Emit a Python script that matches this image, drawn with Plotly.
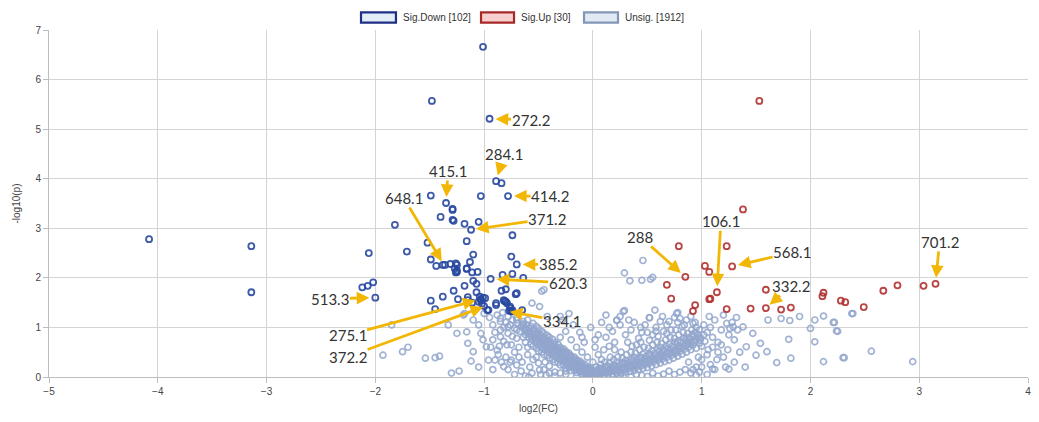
import plotly.graph_objects as go

# ---------------- data (log2FC, -log10 p) ----------------
down_x = [-4.08, -3.14, -3.14, -1.01, -1.48, -0.95, -0.89, -0.84, -0.78, -1.03, -1.35, -1.49, -1.29, -1.40,
          -1.29, -1.28, -1.18, -1.05, -1.12, -1.82, -1.52, -1.16, -0.74, -2.06, -1.71, -1.10, -0.75, -1.49,
          -1.13, -0.70, -1.44, -1.38, -1.36, -1.31, -1.26, -1.25, -1.27, -1.26, -1.25, -1.16, -1.11, -1.06,
          -1.10, -1.07, -1.18, -1.28, -0.94, -0.83, -0.74, -0.64, -0.84, -0.80, -0.70, -0.71, -2.12, -2.07,
          -2.02, -2.00, -1.49, -1.45, -1.38, -1.24, -1.15, -1.11, -1.07, -1.03, -1.01, -1.04, -1.02, -1.00,
          -0.96, -0.89, -0.82, -0.79, -0.76, -0.75, -0.65, -0.89, -0.76, -0.97, -0.99, -1.05, -0.77, -0.74,
          -1.29, -1.25, -1.16, -1.15, -0.81, -0.80, -0.75, -1.03]
down_y = [2.78, 2.64, 1.71, 6.66, 5.57, 5.21, 3.95, 3.91, 3.65, 3.65, 3.51, 3.66, 3.39, 3.23,
          3.17, 3.15, 3.09, 3.13, 2.97, 3.07, 2.71, 2.74, 2.86, 2.50, 2.53, 2.47, 2.43, 2.37,
          2.32, 2.27, 2.24, 2.26, 2.26, 2.28, 2.29, 2.26, 2.19, 2.11, 2.15, 2.18, 2.11, 2.12,
          1.94, 1.88, 1.84, 1.74, 1.98, 2.06, 2.08, 2.00, 1.74, 1.77, 1.69, 1.67, 1.81, 1.84,
          1.91, 1.60, 1.54, 1.37, 1.62, 1.57, 1.55, 1.50, 1.71, 1.55, 1.60, 1.62, 1.48, 1.43,
          1.35, 1.49, 1.55, 1.49, 1.39, 1.32, 1.35, 1.45, 1.42, 1.35, 1.59, 1.52, 1.34, 1.35,
          3.37, 2.12, 2.19, 1.61, 1.53, 1.52, 1.33, 1.57]

up_x = [1.53, 1.38, 0.79, 1.23, 1.03, 1.07, 1.28, 0.85, 0.68, 1.14, 0.72, 1.08, 1.07, 0.94, 0.92,
        1.23, 1.45, 1.59, 1.59, 1.73, 1.82, 2.11, 2.12, 2.28, 2.32, 2.49, 2.67, 2.80, 3.04, 3.15]
up_y = [5.57, 3.38, 2.64, 2.64, 2.24, 2.12, 2.23, 2.02, 1.86, 1.71, 1.58, 1.58, 1.57, 1.45, 1.33,
        1.37, 1.38, 1.76, 1.39, 1.36, 1.40, 1.63, 1.70, 1.54, 1.51, 1.41, 1.74, 1.85, 1.84, 1.88]

unsig_pts = [
    # scattered, right side
    (0.46, 2.35), (0.29, 2.10), (0.34, 1.94), (0.45, 1.95), (0.53, 1.97), (0.55, 2.01), (0.57, 1.35),
    (0.52, 1.20), (0.77, 1.28), (0.78, 1.30), (0.29, 1.34), (0.25, 1.22), (0.22, 1.14), (1.07, 1.22),
    (1.61, 1.15), (1.73, 1.18), (1.81, 1.14), (1.90, 1.22), (2.12, 1.23), (2.04, 1.15), (2.39, 1.28),
    (2.22, 1.10), (2.00, 0.98), (2.24, 0.93), (2.04, 0.71), (1.80, 0.76), (1.60, 0.51), (1.69, 0.29),
    (1.82, 0.38), (2.12, 0.31), (2.31, 0.39), (2.56, 0.52), (2.94, 0.31), (1.50, 0.44), (1.41, 0.61),
    (1.54, 0.68), (1.47, 0.88), (1.38, 1.01), (1.29, 1.01), (1.23, 1.08), (2.21, 1.10), (2.25, 0.92),
    (2.38, 1.28), (2.30, 0.39), (-0.47, 1.73), (-0.45, 1.76),
    # scattered, left side
    (-1.85, 1.05), (-1.93, 0.44), (-1.75, 0.51), (-1.70, 0.60), (-1.54, 0.38), (-1.45, 0.39),
    (-1.41, 0.42), (-1.23, 0.12), (-1.33, 1.05), (-1.25, 0.88), (-1.16, 0.91), (-1.15, 0.68),
    (-1.10, 0.51), (-1.19, 1.25), (-1.05, 1.05), (-1.03, 0.88), (-1.01, 0.75), (-0.98, 0.61),
    (-0.96, 0.34), (-0.90, 0.34), (-0.82, 0.21), (-0.75, 0.34), (-0.70, 0.24), (-0.56, 1.49),
    (-0.49, 0.14), (-0.92, 0.75), (-0.85, 0.81), (-0.79, 0.65), (-0.88, 0.54), (-0.85, 1.12),
    (-0.78, 1.01), (-0.70, 1.15), (-0.64, 1.05), (-1.18, 1.28), (-1.10, 1.15), (-1.30, 0.08),
    (-0.59, 0.00), (-0.43, 0.04), (0.95, 0.04), (1.10, 0.16), (1.25, 0.16),
    (-0.49, 1.42), (-0.42, 1.22), (-0.30, 1.22),
    # dense band, left arm
    (-0.88, 1.25), (-0.85, 1.18), (-0.83, 1.30), (-0.80, 1.10), (-0.78, 1.22), (-0.76, 1.05),
    (-0.74, 1.15), (-0.72, 0.98), (-0.70, 1.20), (-0.69, 1.08), (-0.67, 0.92), (-0.66, 1.02),
    (-0.64, 1.12), (-0.63, 0.95), (-0.62, 0.85), (-0.61, 1.05), (-0.60, 0.90), (-0.59, 0.80),
    (-0.58, 0.98), (-0.57, 0.88), (-0.56, 0.75), (-0.55, 0.93), (-0.54, 0.82), (-0.53, 0.70),
    (-0.52, 0.86), (-0.51, 0.77), (-0.50, 0.65), (-0.49, 0.80), (-0.48, 0.71), (-0.47, 0.60),
    (-0.46, 0.74), (-0.45, 0.66), (-0.44, 0.55), (-0.43, 0.69), (-0.42, 0.60), (-0.41, 0.50),
    (-0.40, 0.64), (-0.39, 0.55), (-0.38, 0.46), (-0.37, 0.58), (-0.36, 0.50), (-0.35, 0.41),
    (-0.34, 0.53), (-0.33, 0.45), (-0.32, 0.37), (-0.31, 0.48), (-0.30, 0.40), (-0.29, 0.33),
    (-0.28, 0.43), (-0.27, 0.35), (-0.26, 0.29), (-0.25, 0.38), (-0.24, 0.31), (-0.23, 0.25),
    (-0.22, 0.33), (-0.21, 0.27), (-0.20, 0.21), (-0.19, 0.29), (-0.18, 0.23), (-0.17, 0.18),
    (-0.16, 0.25), (-0.15, 0.19), (-0.14, 0.15), (-0.13, 0.21), (-0.12, 0.16), (-0.11, 0.12),
    (-0.10, 0.17), (-0.09, 0.13), (-0.08, 0.09), (-0.07, 0.14), (-0.06, 0.10), (-0.05, 0.07),
    (-0.04, 0.11), (-0.03, 0.08), (-0.02, 0.05), (-0.01, 0.09), (0.00, 0.04),
    (-0.60, 1.15), (-0.55, 1.08), (-0.50, 0.98), (-0.45, 0.88), (-0.40, 0.80), (-0.35, 0.70),
    (-0.30, 0.60), (-0.25, 0.52), (-0.20, 0.42), (-0.15, 0.35), (-0.10, 0.28), (-0.05, 0.20),
    (-0.52, 1.02), (-0.47, 0.92), (-0.42, 0.84), (-0.37, 0.76), (-0.32, 0.66), (-0.27, 0.57),
    (-0.22, 0.48), (-0.17, 0.40), (-0.12, 0.32), (-0.07, 0.25), (-0.02, 0.18),
    (-0.62, 0.70), (-0.55, 0.62), (-0.50, 0.52), (-0.45, 0.45), (-0.40, 0.38), (-0.35, 0.30),
    (-0.30, 0.24), (-0.25, 0.18), (-0.20, 0.13), (-0.15, 0.09), (-0.10, 0.06), (-0.05, 0.03),
    (-0.68, 0.60), (-0.72, 0.50), (-0.60, 0.45), (-0.65, 0.30), (-0.55, 0.35), (-0.58, 0.20),
    (-0.50, 0.28), (-0.45, 0.15), (-0.40, 0.22), (-0.35, 0.10), (-0.48, 0.05), (-0.30, 0.08),
    (-0.70, 0.78), (-0.75, 0.65), (-0.78, 0.88), (-0.82, 0.72), (-0.85, 0.95), (-0.80, 0.40),
    (-0.76, 0.30), (-0.66, 0.12), (-0.62, 0.02), (-0.56, 0.08),
    (-0.63, 1.00), (-0.61, 0.93), (-0.58, 0.86), (-0.57, 1.02), (-0.54, 0.96), (-0.53, 0.78),
    (-0.51, 0.90), (-0.49, 0.72), (-0.48, 0.85), (-0.46, 0.68), (-0.44, 0.79), (-0.43, 0.62),
    (-0.41, 0.73), (-0.39, 0.66), (-0.38, 0.59), (-0.36, 0.62), (-0.34, 0.57), (-0.33, 0.50),
    (-0.31, 0.55), (-0.29, 0.45), (-0.28, 0.50), (-0.26, 0.42), (-0.24, 0.46), (-0.23, 0.36),
    (-0.21, 0.40), (-0.19, 0.34), (-0.18, 0.30), (-0.16, 0.31), (-0.14, 0.27), (-0.13, 0.24),
    (-0.11, 0.22), (-0.09, 0.20), (-0.08, 0.17), (-0.06, 0.15), (-0.04, 0.13), (-0.03, 0.15),
    (-0.01, 0.12), (0.01, 0.08), (-0.27, 0.24), (-0.32, 0.29), (-0.37, 0.35), (-0.42, 0.43),
    (-0.47, 0.50), (-0.52, 0.58), (-0.57, 0.66), (-0.64, 0.80), (-0.22, 0.19), (-0.17, 0.14),
    (-0.12, 0.10), (-0.07, 0.05), (-0.02, 0.02),
    (-0.645, 1.07), (-0.615, 0.98), (-0.585, 0.93), (-0.565, 0.81), (-0.545, 0.88), (-0.525, 0.74),
    (-0.505, 0.84), (-0.485, 0.66), (-0.465, 0.79), (-0.455, 0.57), (-0.435, 0.74), (-0.415, 0.57),
    (-0.395, 0.70), (-0.375, 0.52), (-0.355, 0.66), (-0.345, 0.45), (-0.325, 0.59), (-0.305, 0.43),
    (-0.285, 0.55), (-0.265, 0.37), (-0.245, 0.49), (-0.235, 0.28), (-0.215, 0.44), (-0.195, 0.25),
    (-0.175, 0.37), (-0.155, 0.21), (-0.135, 0.31), (-0.115, 0.14), (-0.095, 0.24), (-0.075, 0.11),
    (-0.055, 0.18), (-0.035, 0.05), (-0.015, 0.14),
    # dense band, right arm
    (0.02, 0.02), (0.04, 0.06), (0.06, 0.03), (0.08, 0.07), (0.10, 0.04), (0.12, 0.08), (0.14, 0.05),
    (0.16, 0.10), (0.18, 0.06), (0.20, 0.11), (0.22, 0.07), (0.24, 0.12), (0.26, 0.08), (0.28, 0.14),
    (0.30, 0.10), (0.32, 0.16), (0.34, 0.12), (0.36, 0.18), (0.38, 0.13), (0.40, 0.20), (0.42, 0.15),
    (0.44, 0.22), (0.46, 0.17), (0.48, 0.25), (0.50, 0.19), (0.52, 0.28), (0.54, 0.22), (0.56, 0.31),
    (0.58, 0.25), (0.60, 0.34), (0.62, 0.28), (0.64, 0.37), (0.66, 0.31), (0.68, 0.40), (0.70, 0.34),
    (0.72, 0.44), (0.74, 0.38), (0.76, 0.48), (0.78, 0.42), (0.80, 0.52), (0.82, 0.46), (0.84, 0.56),
    (0.86, 0.50), (0.88, 0.60), (0.90, 0.55), (0.92, 0.64), (0.95, 0.58), (0.98, 0.68), (1.00, 0.62),
    (1.03, 0.72),
    (0.05, 0.12), (0.09, 0.15), (0.13, 0.18), (0.17, 0.20), (0.21, 0.22), (0.25, 0.25), (0.29, 0.27),
    (0.33, 0.30), (0.37, 0.33), (0.41, 0.36), (0.45, 0.39), (0.49, 0.42), (0.53, 0.45), (0.57, 0.48),
    (0.61, 0.52), (0.65, 0.55), (0.69, 0.58), (0.73, 0.62), (0.77, 0.66), (0.81, 0.70), (0.85, 0.74),
    (0.89, 0.78), (0.93, 0.82), (0.97, 0.86),
    (0.03, 0.20), (0.07, 0.25), (0.11, 0.30), (0.15, 0.28), (0.19, 0.35), (0.23, 0.40), (0.27, 0.38),
    (0.31, 0.45), (0.35, 0.50), (0.39, 0.48), (0.43, 0.55), (0.47, 0.60), (0.51, 0.58), (0.55, 0.65),
    (0.59, 0.70), (0.63, 0.68), (0.67, 0.75), (0.71, 0.80), (0.75, 0.78), (0.79, 0.85), (0.83, 0.90),
    (0.87, 0.88), (0.91, 0.95), (0.95, 1.00),
    (0.03, 0.10), (0.07, 0.09), (0.11, 0.13), (0.15, 0.14), (0.19, 0.16), (0.23, 0.17), (0.27, 0.19),
    (0.31, 0.22), (0.35, 0.24), (0.39, 0.26), (0.43, 0.29), (0.47, 0.31), (0.51, 0.34), (0.55, 0.37),
    (0.59, 0.40), (0.63, 0.44), (0.67, 0.47), (0.71, 0.50), (0.75, 0.54), (0.79, 0.58), (0.83, 0.63),
    (0.87, 0.67), (0.91, 0.71), (0.95, 0.75), (0.99, 0.79), (1.02, 0.85), (0.06, 0.18), (0.14, 0.22),
    (0.22, 0.30), (0.30, 0.33), (0.38, 0.40), (0.46, 0.46), (0.54, 0.53), (0.62, 0.60), (0.70, 0.66),
    (0.78, 0.72), (0.86, 0.80), (0.94, 0.90), (0.16, 0.40), (0.26, 0.50), (0.36, 0.62), (0.44, 0.70),
    (0.52, 0.74), (0.60, 0.82), (0.68, 0.88), (0.76, 0.95), (0.84, 1.05), (0.92, 1.08), (0.08, 0.35),
    (0.20, 0.55), (0.32, 0.70), (0.40, 0.65), (0.50, 0.90), (0.64, 1.22), (0.70, 1.12), (0.80, 1.18),
    (0.58, 0.92), (0.44, 1.00), (0.33, 1.15), (0.15, 1.00), (0.02, 0.75), (-0.10, 0.80), (0.18, 0.02),
    (0.28, 0.04), (0.45, 0.03), (0.65, 0.06), (0.80, 0.10), (0.92, 0.15), (1.00, 0.20), (0.97, 0.40),
    (1.06, 0.55), (1.14, 0.35), (1.18, 0.65), (1.24, 0.55), (1.26, 0.98), (1.32, 1.20),
    (0.015, 0.04), (0.035, 0.14), (0.055, 0.07), (0.075, 0.17), (0.095, 0.10), (0.115, 0.21),
    (0.135, 0.11), (0.155, 0.17), (0.175, 0.13), (0.195, 0.24), (0.215, 0.14), (0.235, 0.21),
    (0.255, 0.16), (0.275, 0.29), (0.295, 0.17), (0.315, 0.27), (0.335, 0.20), (0.355, 0.35),
    (0.375, 0.22), (0.395, 0.31), (0.415, 0.24), (0.435, 0.40), (0.455, 0.27), (0.475, 0.36),
    (0.495, 0.29), (0.515, 0.46), (0.535, 0.32), (0.555, 0.42), (0.575, 0.35), (0.595, 0.55),
    (0.615, 0.39), (0.635, 0.50), (0.655, 0.42), (0.675, 0.62), (0.695, 0.46), (0.715, 0.56),
    (0.735, 0.49), (0.755, 0.70), (0.775, 0.52), (0.795, 0.63), (0.815, 0.58), (0.835, 0.78),
    (0.855, 0.62), (0.875, 0.72), (0.895, 0.66), (0.915, 0.86), (0.935, 0.70), (0.965, 0.80),
    (0.985, 0.74),
    # upper scatter in the cloud
    (0.05, 0.45), (0.10, 0.55), (0.15, 0.62), (0.20, 0.70), (0.12, 0.80), (0.18, 0.92), (0.25, 1.05),
    (0.22, 1.15), (0.28, 1.32), (0.30, 0.85), (0.35, 0.95), (0.38, 1.10), (0.42, 0.78), (0.45, 0.90),
    (0.48, 1.05), (0.52, 1.19), (0.55, 0.85), (0.58, 1.00), (0.62, 1.12), (0.65, 0.92), (0.68, 1.05),
    (0.72, 0.95), (0.75, 1.20), (0.78, 1.10), (0.82, 1.02), (0.86, 1.15), (0.90, 1.22), (0.94, 1.10),
    (0.98, 0.95), (1.02, 1.05), (1.05, 0.90), (1.08, 1.00), (1.10, 0.80), (1.12, 1.15), (1.15, 0.70),
    (1.18, 0.95), (1.20, 1.25), (1.25, 0.85), (1.28, 1.10), (1.30, 0.75), (1.33, 0.95), (1.10, 0.60),
    (1.15, 0.50), (1.20, 0.40), (1.05, 0.45), (1.00, 0.35), (1.08, 0.25), (1.12, 0.15), (0.95, 0.20),
    (0.88, 0.30), (0.98, 0.10), (1.05, 0.05), (1.22, 0.20), (1.30, 0.30), (1.35, 0.50), (1.40, 0.20),
    (0.00, 0.30), (-0.05, 0.40), (-0.10, 0.50), (0.02, 0.60), (-0.08, 0.70), (-0.15, 0.60),
    (-0.20, 0.75), (-0.12, 0.90), (0.05, 0.85), (-0.02, 1.00), (0.08, 1.10), (-0.18, 1.05),
    (-0.25, 0.92), (-0.28, 1.15), (-0.30, 0.80), (0.12, 1.25), (-0.22, 1.28),
    (-0.35, 0.02), (-0.25, 0.05), (-0.15, 0.02), (0.10, 0.01), (0.25, 0.02), (0.40, 0.05), (0.55, 0.08),
    (0.70, 0.12), (0.85, 0.15), (0.60, 0.02), (0.75, 0.05), (0.90, 0.08), (0.35, 0.00), (0.50, 0.01),
    # sparse area between x=-1.1 and the band
    (-0.95, 1.20), (-0.92, 1.05), (-0.90, 0.90), (-0.94, 0.60), (-0.87, 0.45), (-0.84, 0.30),
    (-0.92, 0.15), (-0.78, 0.15), (-0.72, 0.05), (-0.68, 0.40), (-0.74, 0.82), (-0.70, 0.95),
    (-0.82, 1.00), (-0.86, 0.62), (-1.05, 0.20), (-1.12, 0.32), (-1.00, 1.28), (-0.60, 0.60),
    (-0.52, 0.40), (-0.44, 0.30), (-0.40, 0.08), (-0.25, 0.12),
]
unsig_x = [p[0] for p in unsig_pts]
unsig_y = [p[1] for p in unsig_pts]

series_names = ["Sig.Down [102]", "Sig.Up [30]", "Unsig. [1912]"]

# labelled features: name and the point the arrow marks
label_names = ["272.2", "284.1", "415.1", "414.2", "648.1", "371.2", "385.2", "620.3", "334.1",
               "513.3", "275.1", "372.2", "288", "106.1", "568.1", "332.2", "701.2"]
label_x = [-0.95, -0.89, -1.35, -0.78, -1.38, -1.12, -0.70, -0.94, -0.80,
           -2.00, -1.07, -1.00, 0.85, 1.14, 1.28, 1.59, 3.15]
label_y = [5.21, 3.95, 3.51, 3.65, 2.30, 2.97, 2.27, 1.98, 1.33,
           1.60, 1.55, 1.42, 2.02, 1.71, 2.23, 1.39, 1.88]
# label text offsets from the point (pixels) and arrow standoff (layout only)
label_ax = [41, 8, 2, 42, -39, 76, 41, 77, 56, -45, -129, -136, -45, 4, 60, 25, 4]
label_ay = [1, -27, -32, 0, -65, -11, 0, 4, 10, 1, 35, 50, -40, -71, -14, -22, -42]
label_so = [6, 6, 6, 6, 2, 5, 6, 6, 4, 6, 1, 1, 6, 6, 6, 5, 6]

# ---------------- figure ----------------
fig = go.Figure()
fig.add_trace(go.Scatter(x=unsig_x, y=unsig_y, mode="markers", name=series_names[2],
                         marker=dict(symbol="circle-open", size=6, color="rgba(146,166,205,0.85)",
                                     line=dict(width=1.7))))
fig.add_trace(go.Scatter(x=down_x, y=down_y, mode="markers", name=series_names[0],
                         marker=dict(symbol="circle-open", size=6, color="rgba(40,72,160,0.9)",
                                     line=dict(width=1.8))))
fig.add_trace(go.Scatter(x=up_x, y=up_y, mode="markers", name=series_names[1],
                         marker=dict(symbol="circle-open", size=6, color="rgba(176,48,48,0.9)",
                                     line=dict(width=1.8))))

gold = "#F2B705"
for name, x, y, ax, ay, so in zip(label_names, label_x, label_y, label_ax, label_ay, label_so):
    fig.add_annotation(x=x, y=y, ax=ax, ay=ay, xref="x", yref="y",
                       text=name, showarrow=True, arrowhead=2, arrowsize=0.9, arrowwidth=2.8,
                       arrowcolor=gold, standoff=so, borderpad=0,
                       font=dict(family="Lato, Open Sans, sans-serif", size=15, color="#333333"))

# custom legend (boxes like the original)
leg_boxes = [(0.3187, 0.3544, "#1f2f85", "#e3edf8"),
             (0.4413, 0.4750, "#a82828", "#f7cfcf"),
             (0.5465, 0.5812, "#8396b8", "#e1e9f3")]
for (x0, x1, lc, fc), nm in zip(leg_boxes, series_names):
    fig.add_shape(type="rect", xref="paper", yref="paper", x0=x0, x1=x1, y0=1.021, y1=1.051,
                  line=dict(color=lc, width=2.2), fillcolor=fc, layer="above")
    fig.add_annotation(xref="paper", yref="paper", x=x1 + 0.005, y=1.036, xanchor="left",
                       yanchor="middle", text=nm, showarrow=False,
                       font=dict(family="Liberation Sans, Arial", size=10, color="#333333"))

axis_common = dict(showgrid=True, gridcolor="#d4d4d4", gridwidth=1, zeroline=False,
                   showline=True, linecolor="#bdbdbd", linewidth=1, ticks="outside",
                   ticklen=5, tickcolor="#bdbdbd", dtick=1, automargin=False,
                   tickfont=dict(family="Liberation Sans, Arial", size=10, color="#444444"),
                   title_font=dict(family="Liberation Sans, Arial", size=10, color="#444444"))
fig.update_xaxes(range=[-5, 4], tick0=-5, title_text="log2(FC)", title_standoff=8, **axis_common)
fig.update_yaxes(range=[0, 7], tick0=0, title_text="-log10(p)", title_standoff=12, **axis_common)

fig.update_layout(width=1039, height=422, margin=dict(l=49, r=11, t=30, b=45),
                  plot_bgcolor="white", paper_bgcolor="white", showlegend=False)

# remove the browser's default page margin so the figure sits at the window origin
fig.write_html("out.html", config={"displayModeBar": False},
               post_script="document.body.style.margin='0';document.body.style.overflow='hidden';")
